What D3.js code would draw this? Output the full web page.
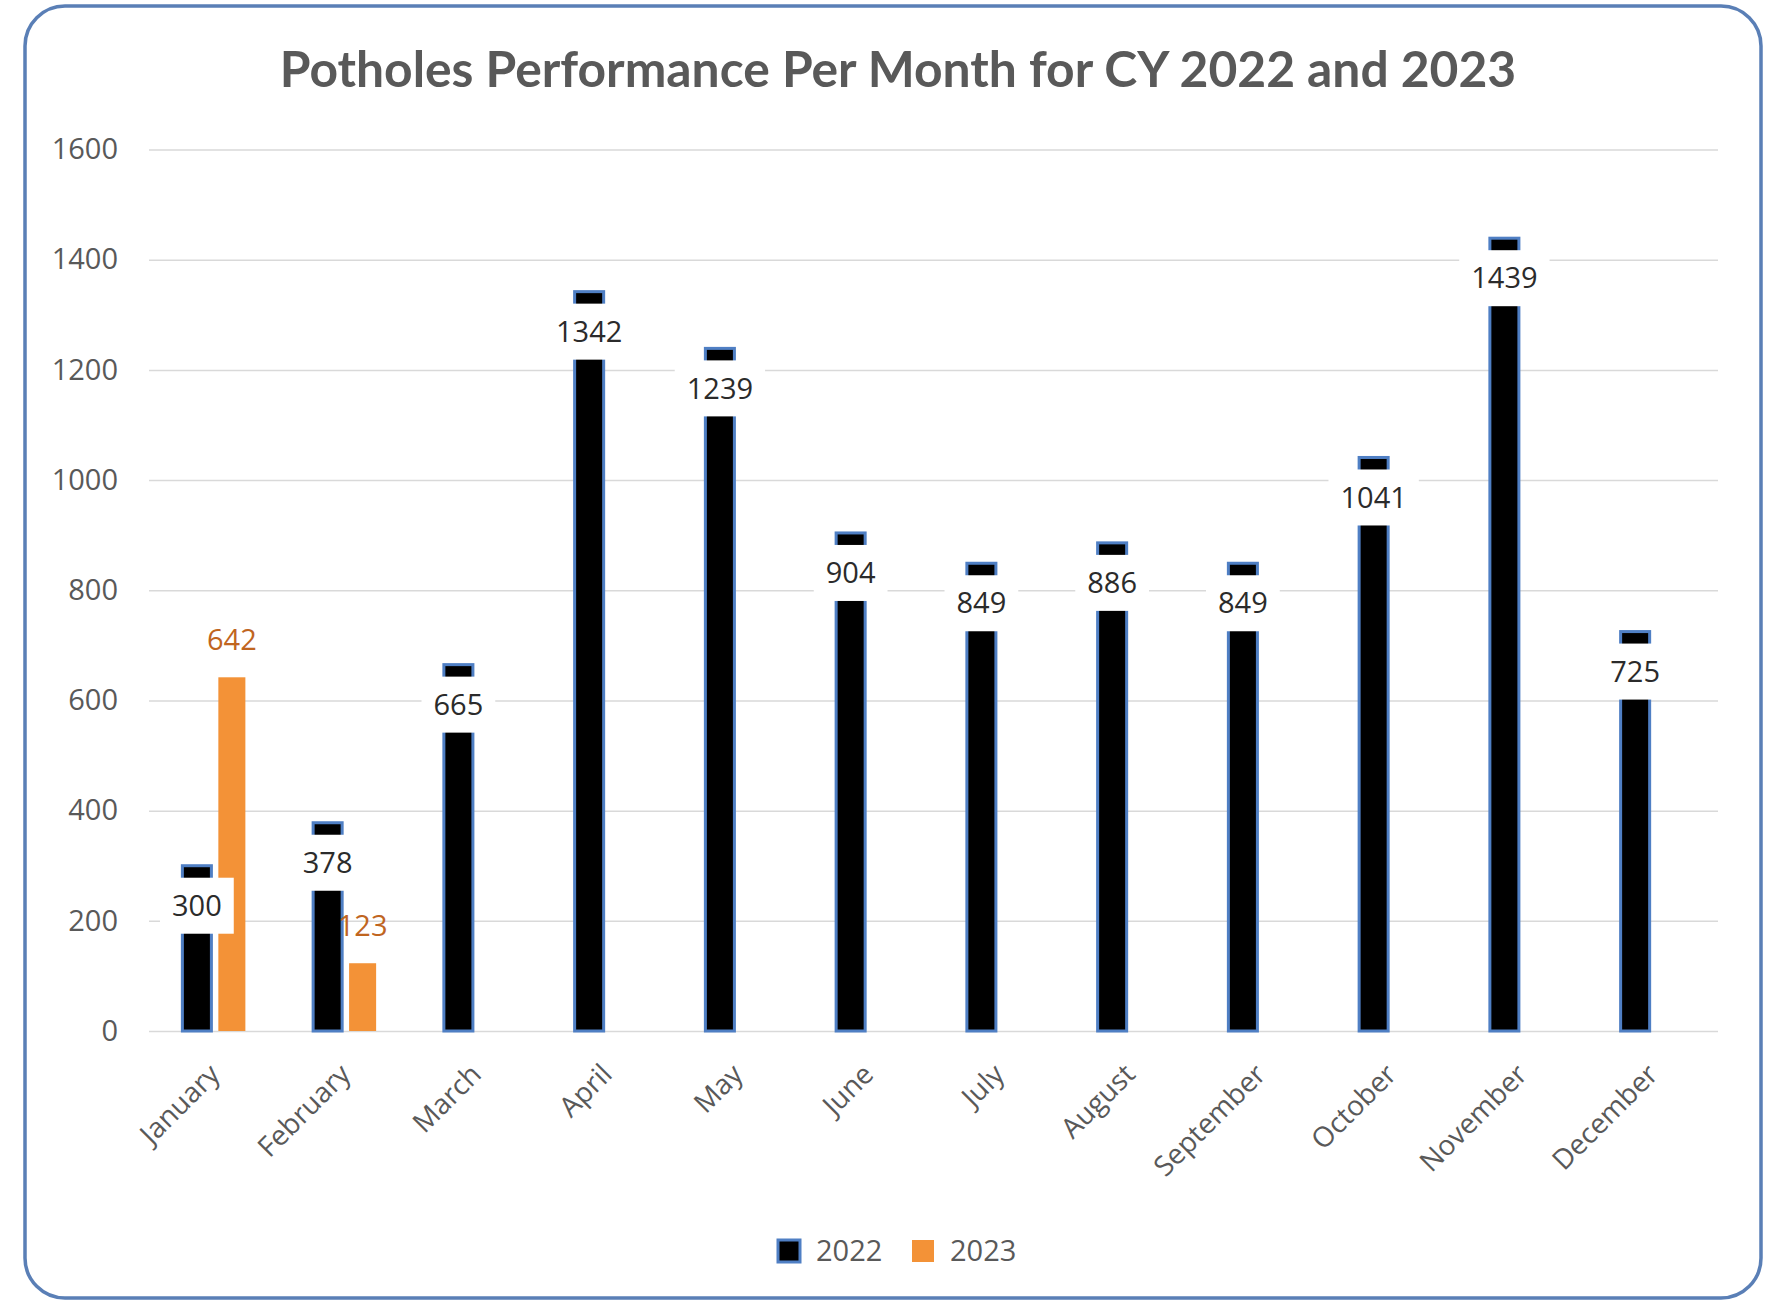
<!DOCTYPE html>
<html>
<head>
<meta charset="utf-8">
<script src="https://cdn.jsdelivr.net/npm/d3@7"></script>
<style>
  body { margin: 0; background: #fff; }
  svg { display: block; }
</style>
</head>
<body>
<div class="chart"></div>
<script>
// 数据
const months = ['January', 'February', 'March', 'April', 'May', 'June', 'July', 'August', 'September', 'October', 'November', 'December']
const series = ['2022', '2023']
const values2022 = [300, 378, 665, 1342, 1239, 904, 849, 886, 849, 1041, 1439, 725]
const values2023 = [642, 123, null, null, null, null, null, null, null, null, null, null]
const yTicks = [0, 200, 400, 600, 800, 1000, 1200, 1400, 1600]
const title = 'Potholes Performance Per Month for CY 2022 and 2023'

const width = 1775
const height = 1302
const margin = { left: 149, right: 57, top: 149.5, bottom: 271 }
const font = "'Open Sans', 'DejaVu Sans', sans-serif"
const gray = '#595959'

const svg = d3.select('.chart').append('svg')
  .attr('width', width)
  .attr('height', height)

// 外框
svg.append('rect')
  .attr('x', 25).attr('y', 6)
  .attr('width', 1736).attr('height', 1292)
  .attr('rx', 40).attr('ry', 40)
  .attr('fill', '#fff')
  .attr('stroke', '#5a7fb6')
  .attr('stroke-width', 3.5)

// 标题
const titleText = svg.append('text')
  .attr('x', 898).attr('y', 87)
  .attr('text-anchor', 'middle')
  .style('font-family', "Lato, 'Open Sans', sans-serif")
  .style('font-weight', 'bold')
  .style('font-size', '46px')
  .style('fill', gray)
  .text(title)
const tw = titleText.node().getComputedTextLength()
titleText.style('font-size', (46 * 1237 / tw) + 'px')

// 比例尺
const x = d3.scaleBand().domain(months).range([margin.left, width - margin.right])
const x1 = d3.scaleBand().domain(series).range([0, 64]).paddingInner(0.17)
const y = d3.scaleLinear().domain([0, 1600]).range([height - margin.bottom, margin.top])
const plotW = width - margin.right - margin.left

// y 轴与网格线
const yAxis = svg.append('g')
  .attr('transform', `translate(${margin.left},0)`)
  .call(d3.axisLeft(y).tickValues(yTicks).tickFormat(d3.format('d')).tickSize(-plotW).tickPadding(31))
yAxis.select('.domain').remove()
yAxis.selectAll('line').attr('stroke', '#d9d9d9').attr('stroke-width', 1.5)
yAxis.selectAll('text')
  .style('font-family', font).style('font-size', '29px').style('fill', gray)

// x 轴
const xAxis = svg.append('g')
  .attr('transform', `translate(0,${y(0)})`)
  .call(d3.axisBottom(x).tickSize(0))
xAxis.select('.domain').remove()
xAxis.selectAll('text')
  .attr('text-anchor', 'end')
  .attr('dy', '0.35em')
  .attr('transform', 'translate(-2,36) rotate(-45)')
  .style('font-family', font).style('font-size', '28px').style('fill', gray)

const barX = (m, s) => x(m) + x.bandwidth() / 2 - 32 + x1(s)

// 2022 柱子
svg.append('g').selectAll('rect')
  .data(months.map((m, i) => ({ m, v: values2022[i] })))
  .join('rect')
  .attr('x', d => barX(d.m, '2022'))
  .attr('y', d => y(d.v))
  .attr('width', x1.bandwidth())
  .attr('height', d => y(0) - y(d.v))
  .attr('fill', '#000')
  .attr('stroke', '#4f7fc4')
  .attr('stroke-width', 3)

// 2023 柱子
const d2023 = months.map((m, i) => ({ m, v: values2023[i] })).filter(d => d.v != null)
svg.append('g').selectAll('rect')
  .data(d2023)
  .join('rect')
  .attr('x', d => barX(d.m, '2023') + 1)
  .attr('y', d => y(d.v))
  .attr('width', x1.bandwidth() - 2)
  .attr('height', d => y(0) - y(d.v))
  .attr('fill', '#f39237')

// 2023 标签
svg.append('g').selectAll('text')
  .data(d2023)
  .join('text')
  .attr('x', d => barX(d.m, '2023') + x1.bandwidth() / 2)
  .attr('y', d => y(d.v) - 37)
  .attr('dy', '0.35em')
  .attr('text-anchor', 'middle')
  .style('font-family', font).style('font-size', '29px').style('fill', '#c0651f')
  .text(d => d.v)

// 2022 标签 (白底)
const lab = svg.append('g').selectAll('g')
  .data(months.map((m, i) => ({ m, v: values2022[i] })))
  .join('g')
  .attr('transform', d => `translate(${barX(d.m, '2022') + x1.bandwidth() / 2},${y(d.v) + 40})`)
const boxes = lab.append('rect').attr('fill', '#fff')
const texts = lab.append('text')
  .attr('dy', '0.35em')
  .attr('text-anchor', 'middle')
  .style('font-family', font).style('font-size', '29px').style('fill', '#2b2b2b')
  .text(d => d.v)
boxes.each(function (d, i) {
  const w = texts.nodes()[i].getComputedTextLength() + 24
  d3.select(this).attr('x', -w / 2).attr('y', -28).attr('width', w).attr('height', 56)
})

// 图例
const legend = svg.append('g').attr('transform', `translate(0,1251)`)
const legendItems = [
  { name: '2022', x: 778, fill: '#000', stroke: '#4f7fc4' },
  { name: '2023', x: 912, fill: '#f39237', stroke: 'none' }
]
legend.selectAll('rect').data(legendItems).join('rect')
  .attr('x', d => d.x).attr('y', -11)
  .attr('width', 22).attr('height', 22)
  .attr('fill', d => d.fill)
  .attr('stroke', d => d.stroke)
  .attr('stroke-width', 3)
legend.selectAll('text').data(legendItems).join('text')
  .attr('x', d => d.x + 38).attr('y', 0)
  .attr('dy', '0.35em')
  .style('font-family', font).style('font-size', '29px').style('fill', gray)
  .text(d => d.name)
</script>
</body>
</html>
